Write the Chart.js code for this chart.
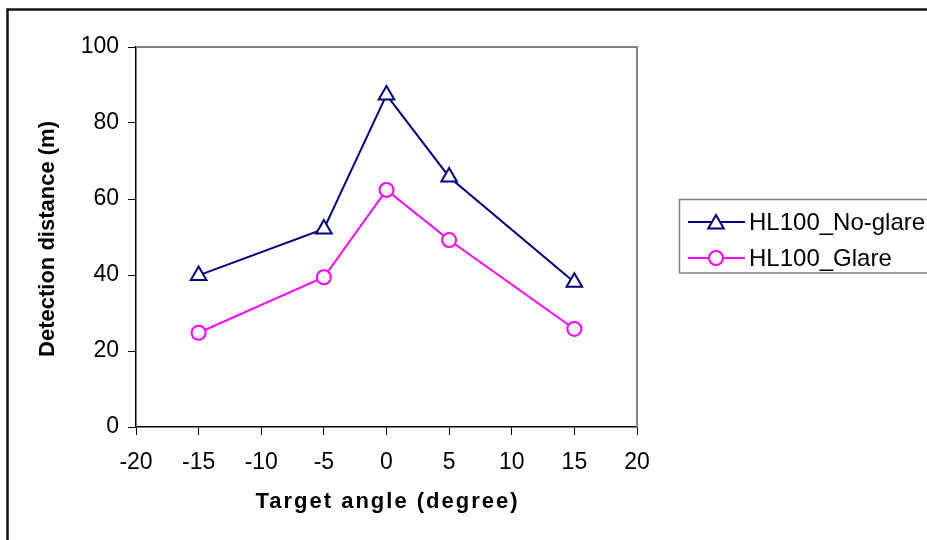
<!DOCTYPE html>
<html><head><meta charset="utf-8">
<script src="https://cdn.jsdelivr.net/npm/chart.js@4/dist/chart.umd.min.js"></script>
<style>html,body{margin:0;padding:0;background:#fff;overflow:hidden}canvas{display:block}</style>
</head><body><canvas id="c" width="927" height="540"></canvas>
<script>
const angles = [-15, -5, 0, 5, 15];
const noGlare = [39.9, 52.1, 87.4, 65.8, 38.1];
const glare = [24.8, 39.4, 62.4, 49.2, 25.8];
const seriesNames = ['HL100_No-glare', 'HL100_Glare'];
const xTicks = [-20, -15, -10, -5, 0, 5, 10, 15, 20];
const yTicks = [0, 20, 40, 60, 80, 100];
const xTitle = 'Target angle (degree)';
const yTitle = 'Detection distance (m)';

const FONT = '"Liberation Sans", Arial, sans-serif';

const toPts = (xs, ys) => xs.map((x, i) => ({x: x, y: ys[i]}));

const framePlugin = {
  id: 'frame',
  beforeDraw(chart) {
    const ctx = chart.ctx;
    ctx.save();
    ctx.fillStyle = '#fff';
    ctx.fillRect(0, 0, chart.width, chart.height);
    ctx.strokeStyle = '#111';
    ctx.lineWidth = 2.5;
    ctx.strokeRect(7.5, 9.5, 1000, 700);
    ctx.restore();
  },
  beforeDatasetsDraw(chart) {
    const {ctx, chartArea: a} = chart;
    ctx.save();
    ctx.strokeStyle = '#808080';
    ctx.lineWidth = 2;
    ctx.beginPath();
    ctx.moveTo(a.left, a.top);
    ctx.lineTo(a.right, a.top);
    ctx.lineTo(a.right, a.bottom);
    ctx.stroke();
    ctx.restore();
  },
  afterDraw(chart) {
    const {ctx, chartArea: a} = chart;
    ctx.save();
    ctx.fillStyle = '#000';
    ctx.font = 'bold 22px ' + FONT;
    ctx.textAlign = 'center';
    ctx.textBaseline = 'middle';
    try { ctx.letterSpacing = '2px'; } catch (e) {}
    ctx.fillText(xTitle, (a.left + a.right) / 2 + 1, 502);
    try { ctx.letterSpacing = '0px'; } catch (e) {}
    ctx.translate(48, (a.top + a.bottom) / 2 + 2);
    ctx.rotate(-Math.PI / 2);
    ctx.fillText(yTitle, 0, 0);
    ctx.restore();

    // legend
    ctx.save();
    ctx.fillStyle = '#fff';
    ctx.fillRect(679.5, 199.5, 400, 73.5);
    ctx.strokeStyle = '#808080';
    ctx.lineWidth = 1.5;
    ctx.strokeRect(679.5, 199.5, 400, 73.5);
    const rows = [222, 258];
    chart.data.datasets.forEach((ds, i) => {
      const y = rows[i];
      ctx.strokeStyle = ds.borderColor;
      ctx.lineWidth = ds.borderWidth;
      ctx.beginPath();
      ctx.moveTo(688, y);
      ctx.lineTo(745, y);
      ctx.stroke();
      ctx.fillStyle = ds.pointBackgroundColor;
      ctx.strokeStyle = ds.pointBorderColor;
      ctx.lineWidth = ds.pointBorderWidth;
      ctx.beginPath();
      if (ds.pointStyle === 'triangle') {
        const r = ds.pointRadius, cx = 716, cy = y + 2;
        ctx.moveTo(cx, cy - r);
        ctx.lineTo(cx + r * Math.sin(2 * Math.PI / 3), cy + r / 2);
        ctx.lineTo(cx - r * Math.sin(2 * Math.PI / 3), cy + r / 2);
        ctx.closePath();
      } else {
        ctx.arc(716, y, ds.pointRadius, 0, Math.PI * 2);
      }
      ctx.fill();
      ctx.stroke();
      ctx.fillStyle = '#000';
      ctx.font = '24px ' + FONT;
      ctx.textAlign = 'left';
      ctx.textBaseline = 'middle';
      ctx.fillText(ds.label, 749, y + 1);
    });
    ctx.restore();
  }
};

new Chart(document.getElementById('c'), {
  type: 'line',
  data: {
    datasets: [
      {
        label: seriesNames[0],
        data: toPts(angles, noGlare),
        borderColor: '#000080', borderWidth: 2,
        pointStyle: 'triangle', pointRadius: 9, pointBorderWidth: 2,
        pointBorderColor: '#000080', pointBackgroundColor: '#fff',
        fill: false, tension: 0
      },
      {
        label: seriesNames[1],
        data: toPts(angles, glare),
        borderColor: '#ff00ff', borderWidth: 2,
        pointStyle: 'circle', pointRadius: 7, pointBorderWidth: 2,
        pointBorderColor: '#ff00ff', pointBackgroundColor: '#fff',
        fill: false, tension: 0
      }
    ]
  },
  options: {
    responsive: false,
    animation: false,
    devicePixelRatio: 1,
    layout: {padding: {top: 47, right: 290, left: 0, bottom: 0}},
    plugins: {legend: {display: false}, tooltip: {enabled: false}},
    scales: {
      x: {
        type: 'linear', min: -20, max: 20,
        afterBuildTicks: s => { s.ticks = xTicks.map(v => ({value: v})); },
        afterFit: s => { s.height = 113; },
        ticks: {color: '#000', font: {family: FONT, size: 23}, padding: 14, maxRotation: 0, autoSkip: false},
        grid: {drawOnChartArea: false, tickLength: 8, color: '#000', lineWidth: 1},
        border: {color: '#000', width: 1.5}
      },
      y: {
        min: 0, max: 100,
        afterBuildTicks: s => { s.ticks = yTicks.map(v => ({value: v})); },
        afterFit: s => { s.width = 136; },
        ticks: {color: '#000', font: {family: FONT, size: 23}, padding: 9},
        grid: {drawOnChartArea: false, tickLength: 8, color: '#000', lineWidth: 1},
        border: {color: '#000', width: 1.5}
      }
    }
  },
  plugins: [framePlugin]
});
</script>
</body></html>
